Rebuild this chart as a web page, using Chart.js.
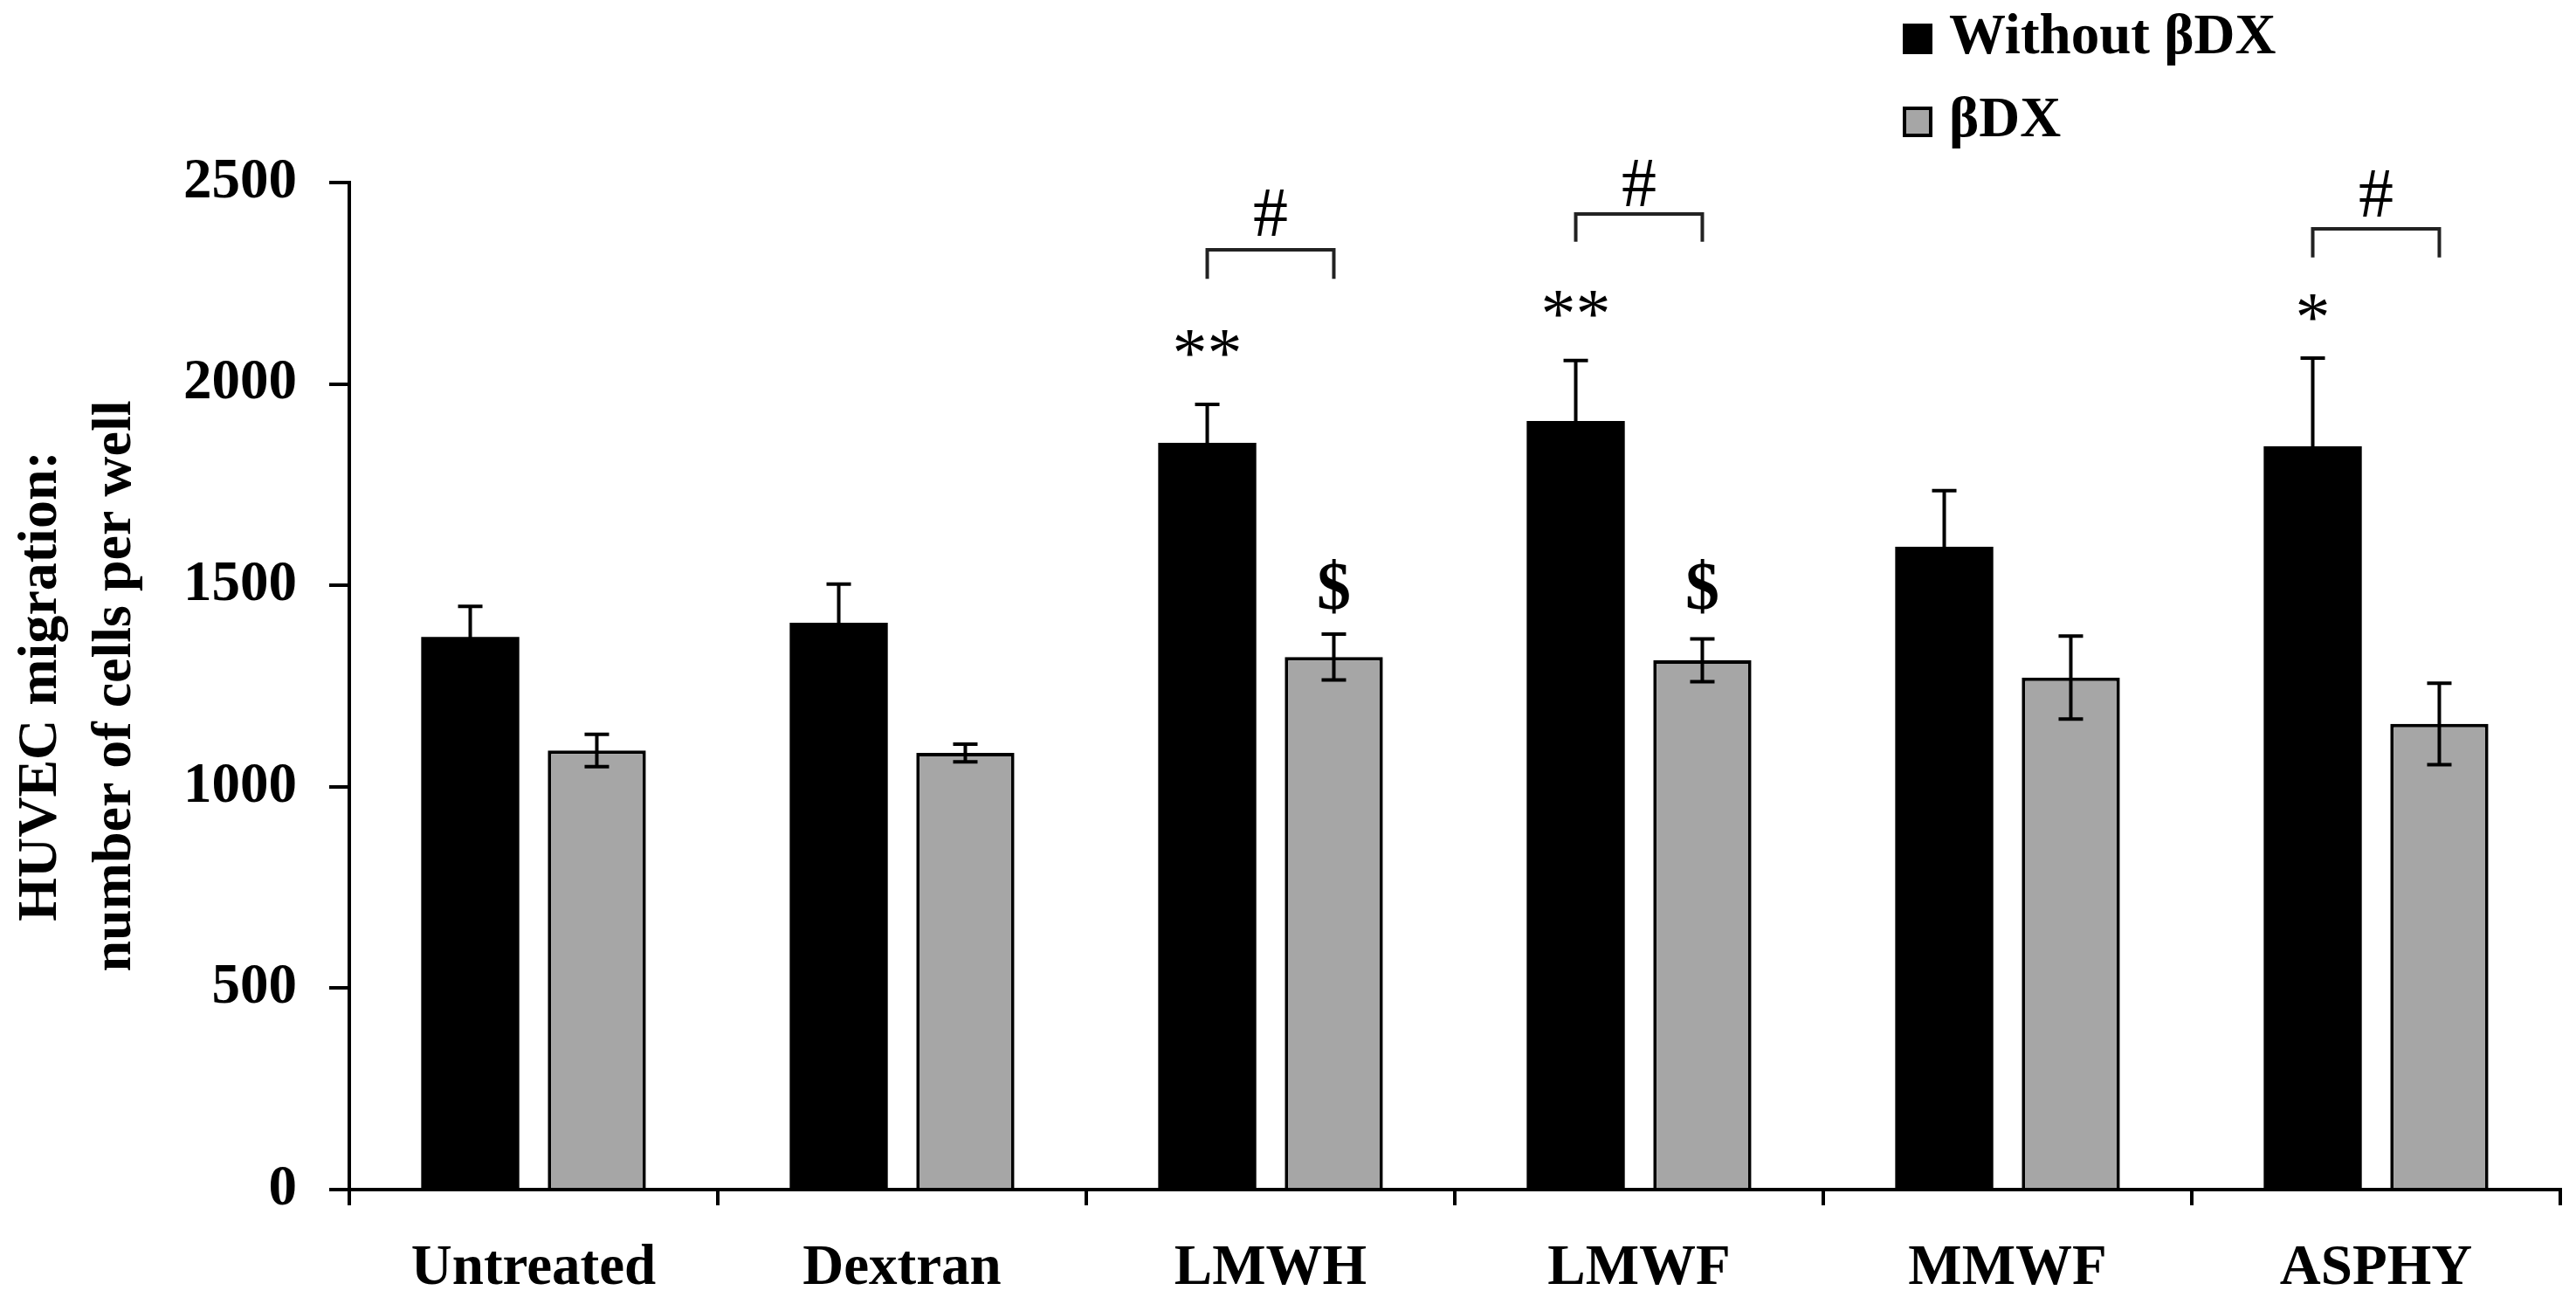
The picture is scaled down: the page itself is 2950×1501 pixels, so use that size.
<!DOCTYPE html>
<html lang="en">
<head>
<meta charset="utf-8">
<title>HUVEC migration</title>
<script src="https://cdn.jsdelivr.net/npm/chart.js@4.4.1/dist/chart.umd.min.js"></script>
<style>
  html, body { margin: 0; padding: 0; background: #ffffff; overflow: hidden; }
  #chart { display: block; }
</style>
</head>
<body>
<canvas id="chart" width="2950" height="1501"></canvas>
<script>
// Data
const categories = ['Untreated', 'Dextran', 'LMWH', 'LMWF', 'MMWF', 'ASPHY'];
const seriesNames = ['Without βDX', 'βDX'];
const withoutBdx = [1372, 1407, 1854, 1908, 1596, 1845];
const withoutBdxErr = [76, 96, 95, 150, 139, 219];
const withBdx = [1090, 1084, 1322, 1314, 1271, 1156];
const withBdxErr = [40, 22, 57, 53, 103, 101];
const yTicks = [0, 500, 1000, 1500, 2000, 2500];

// Significance marks, given as the y value the mark is centred on
const starText = ['', '', '**', '**', '', '*'];
const starAt = [null, null, 2101, 2199, null, 2190];
const dollarText = ['', '', '$', '$', '', ''];
const dollarAt = [null, null, 1498, 1498, null, null];
const bracketTop = [null, null, 2333, 2422, null, 2385];
const bracketFoot = [null, null, 2261, 2353, null, 2314];
const hashAt = [null, null, 2426, 2500, null, 2472];

const FONT = '"Liberation Serif", "Times New Roman", serif';
const BLACK = '#000000';
const GREY = '#a6a6a6';

/**
 * Fill text so that its ink (not its em box) is centred on (x, y)
 */
function fillInkCentered(ctx, text, x, y) {
  const m = ctx.measureText(text);
  const base = y + (m.actualBoundingBoxAscent - m.actualBoundingBoxDescent) / 2;
  ctx.fillText(text, x, base);
}

/**
 * Error bars: a vertical line with caps at value +/- error
 */
const errorBarPlugin = {
  id: 'errorBars',
  afterDatasetsDraw(chart) {
    const { ctx } = chart;
    const yScale = chart.scales.y;
    ctx.save();
    ctx.strokeStyle = BLACK;
    ctx.lineWidth = 4;
    chart.data.datasets.forEach((ds, di) => {
      const meta = chart.getDatasetMeta(di);
      meta.data.forEach((bar, i) => {
        const v = ds.data[i];
        const e = ds.errors[i];
        const yHi = yScale.getPixelForValue(v + e);
        const yLo = yScale.getPixelForValue(v - e);
        const half = 14;
        ctx.beginPath();
        ctx.moveTo(bar.x, yLo);
        ctx.lineTo(bar.x, yHi);
        ctx.moveTo(bar.x - half, yHi);
        ctx.lineTo(bar.x + half, yHi);
        ctx.moveTo(bar.x - half, yLo);
        ctx.lineTo(bar.x + half, yLo);
        ctx.stroke();
      });
    });
    ctx.restore();
  }
};

/**
 * Stars, dollars and # brackets above the bars
 */
const marksPlugin = {
  id: 'marks',
  afterDraw(chart) {
    const { ctx } = chart;
    const yScale = chart.scales.y;
    const blackBars = chart.getDatasetMeta(0).data;
    const greyBars = chart.getDatasetMeta(1).data;
    ctx.save();
    ctx.fillStyle = BLACK;
    ctx.textAlign = 'center';

    categories.forEach((c, i) => {
      const xb = blackBars[i].x;
      const xg = greyBars[i].x;
      if (starText[i]) {
        ctx.font = '80px ' + FONT;
        fillInkCentered(ctx, starText[i], xb, yScale.getPixelForValue(starAt[i]));
      }
      if (dollarText[i]) {
        ctx.font = 'bold 78px ' + FONT;
        fillInkCentered(ctx, dollarText[i], xg, yScale.getPixelForValue(dollarAt[i]));
      }
      if (bracketTop[i] !== null) {
        const yt = yScale.getPixelForValue(bracketTop[i]);
        const yf = yScale.getPixelForValue(bracketFoot[i]);
        ctx.strokeStyle = '#222222';
        ctx.lineWidth = 4;
        ctx.beginPath();
        ctx.moveTo(xb, yf);
        ctx.lineTo(xb, yt);
        ctx.lineTo(xg, yt);
        ctx.lineTo(xg, yf);
        ctx.stroke();
        ctx.font = '80px ' + FONT;
        fillInkCentered(ctx, '#', (xb + xg) / 2, yScale.getPixelForValue(hashAt[i]));
      }
    });
    ctx.restore();
  }
};

/**
 * Legend in the top right corner, squares and bold labels
 */
const legendPlugin = {
  id: 'cornerLegend',
  afterDraw(chart) {
    const { ctx } = chart;
    const boxX = 2179;
    const textX = 2232;
    const baselines = [61, 156];
    ctx.save();
    ctx.font = 'bold 65px ' + FONT;
    ctx.textAlign = 'left';
    ctx.textBaseline = 'alphabetic';
    chart.data.datasets.forEach((ds, di) => {
      const base = baselines[di];
      ctx.fillStyle = ds.backgroundColor;
      ctx.fillRect(boxX, base - 34, 34, 35);
      if (ds.borderWidth) {
        ctx.strokeStyle = ds.borderColor;
        ctx.lineWidth = 4;
        ctx.strokeRect(boxX + 2, base - 32, 30, 31);
      }
      ctx.fillStyle = BLACK;
      ctx.fillText(ds.label, textX, base);
    });
    ctx.restore();
  }
};

const tickFont = { family: FONT, size: 65, weight: 'bold' };

new Chart(document.getElementById('chart'), {
  type: 'bar',
  data: {
    labels: categories,
    datasets: [
      {
        label: seriesNames[0],
        data: withoutBdx,
        errors: withoutBdxErr,
        backgroundColor: BLACK,
        borderWidth: 0,
        categoryPercentage: 0.687,
        barPercentage: 0.775
      },
      {
        label: seriesNames[1],
        data: withBdx,
        errors: withBdxErr,
        backgroundColor: GREY,
        borderColor: BLACK,
        borderWidth: 4,
        categoryPercentage: 0.687,
        barPercentage: 0.775
      }
    ]
  },
  options: {
    responsive: false,
    devicePixelRatio: 1,
    animation: false,
    layout: { padding: { top: 209, right: 18, bottom: 0, left: 0 } },
    plugins: {
      legend: { display: false },
      tooltip: { enabled: false }
    },
    scales: {
      x: {
        offset: true,
        grid: {
          offset: true,
          drawOnChartArea: false,
          color: BLACK,
          lineWidth: 4,
          tickLength: 18
        },
        border: { color: BLACK, width: 4 },
        ticks: {
          color: BLACK,
          font: tickFont,
          padding: 34,
          maxRotation: 0,
          autoSkip: false
        },
        afterFit(scale) {
          scale.height = 139;
        }
      },
      y: {
        min: 0,
        max: 2500,
        afterBuildTicks(scale) {
          scale.ticks = yTicks.map(v => ({ value: v }));
        },
        grid: {
          drawOnChartArea: false,
          color: BLACK,
          lineWidth: 4,
          tickLength: 23
        },
        border: { color: BLACK, width: 4 },
        ticks: {
          color: BLACK,
          font: tickFont,
          padding: 37,
          callback: value => String(value)
        },
        title: {
          display: true,
          text: ['HUVEC migration:', 'number of cells per well'],
          color: BLACK,
          font: { family: FONT, size: 64, weight: 'bold', lineHeight: 1.33 },
          padding: { top: 5, bottom: 0 }
        },
        afterFit(scale) {
          scale.width = 400;
        }
      }
    }
  },
  plugins: [errorBarPlugin, marksPlugin, legendPlugin]
});
</script>
</body>
</html>
